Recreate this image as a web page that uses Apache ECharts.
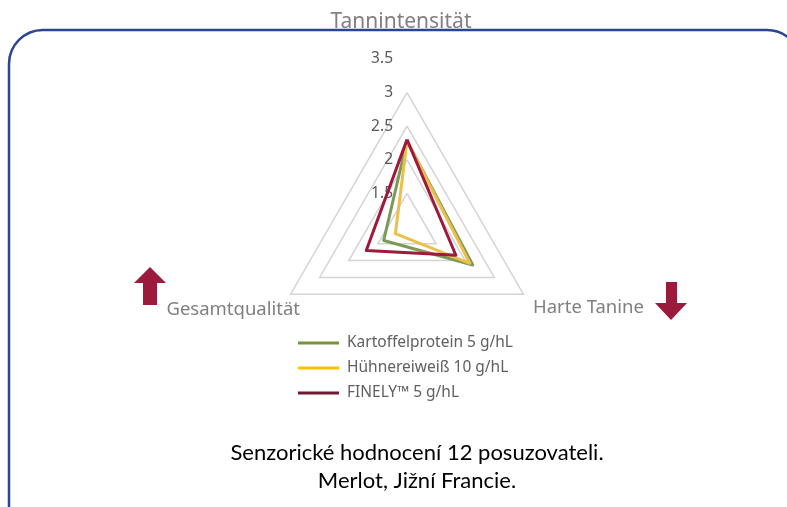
<!DOCTYPE html>
<html><head><meta charset="utf-8">
<script src="https://cdn.jsdelivr.net/npm/echarts@6/dist/echarts.min.js"></script>
<style>html,body{margin:0;padding:0;background:#fff}#c{width:787px;height:507px}</style>
</head><body><div id="c"></div>
<script>
const indicators = ['Tannintensität', 'Gesamtqualität', 'Harte Tanine'];
const seriesNames = ['Kartoffelprotein 5 g/hL', 'Hühnereiweiß 10 g/hL', 'FINELY™ 5 g/hL'];
const kartoffel = [2.28, 1.40, 2.13];
const huehner = [2.28, 1.20, 2.08];
const finely = [2.30, 1.70, 1.84];
const axisMin = 1, axisMax = 3.5;
const titleLines = ['Senzorické hodnocení 12 posuzovateli.', 'Merlot, Jižní Francie.'];

const lineColors = ['#7b9a57', '#ecbf4a', '#a0183c'];
const legendColors = ['#77933c', '#ffc000', '#6e1a30'];
const values = [kartoffel, huehner, finely];

const chart = echarts.init(document.getElementById('c'));
chart.setOption({
  animation: false,
  title: {
    text: titleLines.join('\n'),
    left: 412, top: 434, textAlign: 'center',
    textStyle: {fontFamily: 'Lato', fontSize: 22, fontWeight: 'normal', color: '#000', lineHeight: 28}
  },
  legend: {
    orient: 'vertical', left: 298, top: 335, itemGap: 9, padding: 0,
    icon: 'rect', itemWidth: 41, itemHeight: 3,
    textStyle: {fontFamily: 'Noto Sans', fontSize: 15.5, color: '#606060', padding: [0, 0, 0, 3]},
    data: seriesNames.map((n, i) => ({name: n, itemStyle: {color: legendColors[i]}}))
  },
  radar: {
    center: [407, 227], radius: 168, startAngle: 90, shape: 'polygon',
    splitNumber: 5,
    axisName: {show: false},
    axisLine: {show: false}, axisTick: {show: false},
    axisLabel: {show: false},
    splitArea: {show: false},
    splitLine: {lineStyle: {color: ['#d4d4d4', '#d4d4d4', '#d4d4d4', '#d4d4d4', '#d4d4d4', 'rgba(0,0,0,0)'], width: 1.5}},
    indicator: indicators.map((n, i) => ({
      name: n, min: axisMin, max: axisMax,
      axisLabel: i === 0 ? {show: true, showMinLabel: false, showMaxLabel: true, fontFamily: 'Noto Sans', fontSize: 15.5, color: '#595959', margin: 14} : {show: false}
    }))
  },
  series: [{
    type: 'radar', symbol: 'none',
    data: values.map((v, i) => ({
      name: seriesNames[i], value: v,
      itemStyle: {color: lineColors[i]},
      lineStyle: {color: lineColors[i], width: 3}
    }))
  }],
  graphic: [
    {type: 'rect', z: -10, shape: {x: 9, y: 30, width: 792, height: 520, r: 34}, style: {fill: 'none', stroke: '#2b4594', lineWidth: 2.5}},
    {type: 'text', z: 10, style: {text: indicators[0], x: 401, y: 22, align: 'center', verticalAlign: 'middle', font: '21px "Noto Sans"', fill: '#808080'}},
    {type: 'text', z: 10, style: {text: indicators[1], x: 300, y: 310, align: 'right', verticalAlign: 'middle', font: '18.5px "Noto Sans"', fill: '#808080'}},
    {type: 'text', z: 10, style: {text: indicators[2], x: 533, y: 308, align: 'left', verticalAlign: 'middle', font: '18.5px "Noto Sans"', fill: '#808080'}},
    {type: 'polygon', shape: {points: [[150,267],[166,283],[157,283],[157,305],[143,305],[143,283],[134,283]]}, style: {fill: '#9c1a3c'}},
    {type: 'polygon', shape: {points: [[671,320],[687,303],[677,303],[677,282],[666,282],[666,303],[655,303]]}, style: {fill: '#9c1a3c'}}
  ]
});
</script></body></html>
